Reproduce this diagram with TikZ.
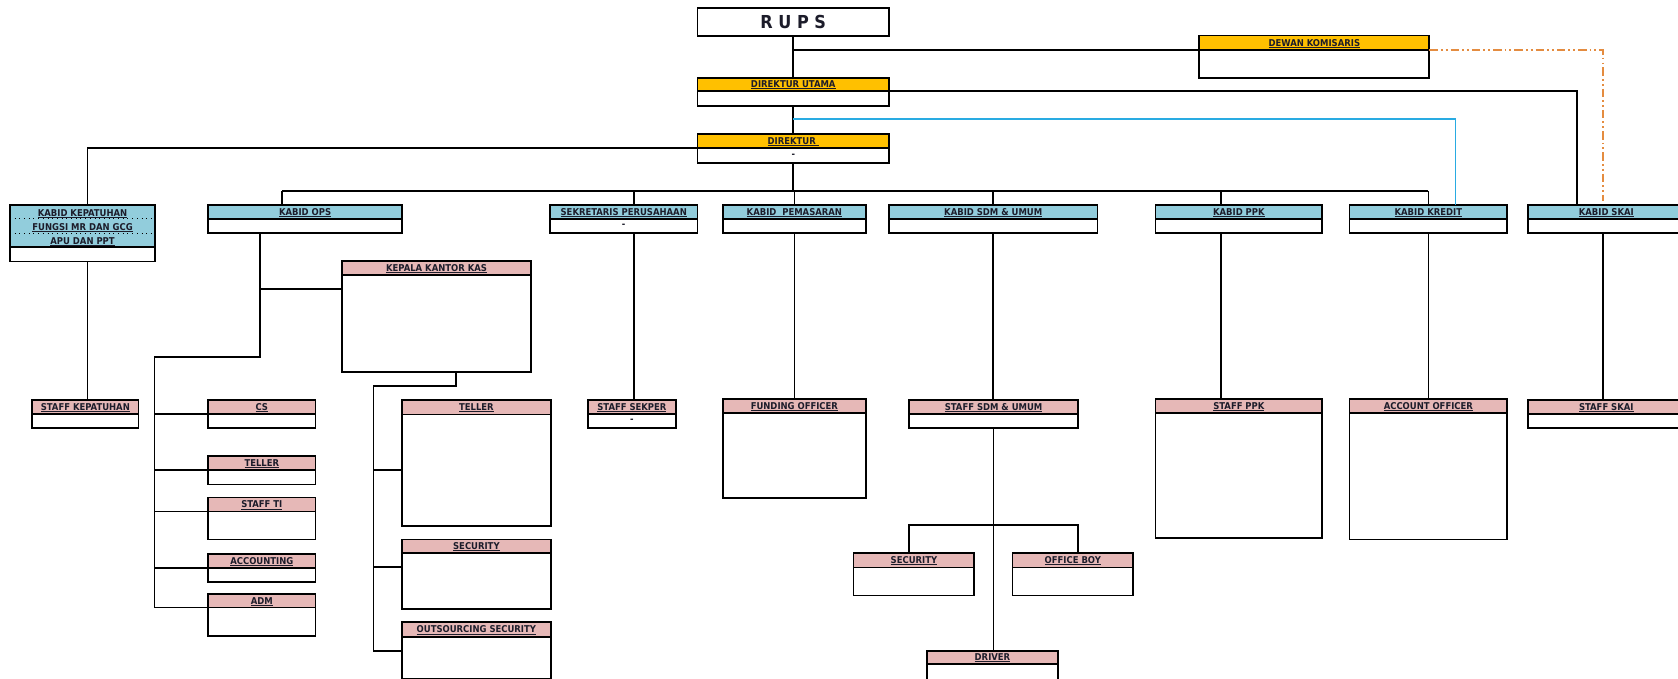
\documentclass[tikz,border=0pt]{standalone}
\usepackage{fontspec}
\usepackage{xcolor}
\usepackage{tikz}
\newfontfamily\orgfont{DejaVu Sans Condensed}
\definecolor{gold}{HTML}{FFC000}
\definecolor{kabid}{HTML}{92CDDC}
\definecolor{staff}{HTML}{E6B8B7}
\definecolor{jalur}{HTML}{29ABE2}
\definecolor{komisaris}{RGB}{228,140,64}
\definecolor{tulisan}{HTML}{1C1C2A}

\newcommand{\garisbawah}[1]{\setbox0\hbox{#1}\rlap{\rule[-0.75pt]{\wd0}{0.4pt}}\box0}

\tikzstyle{head} = [rectangle, draw=black, line width=0.9pt, inner sep=0pt, outer sep=0pt, anchor=north west, text=tulisan, align=center, font=\orgfont\bfseries\fontsize{5}{7.5}\selectfont]
\tikzstyle{isi} = [rectangle, draw=black, fill=white, line width=0.9pt, inner sep=0pt, outer sep=0pt, anchor=north west, text=tulisan, font=\orgfont\bfseries\fontsize{5}{6}\selectfont]
\tikzstyle{garis} = [line width=0.9pt, draw=black]
\tikzstyle{garisbiru} = [line width=0.9pt, draw=jalur]
\tikzstyle{gariskom} = [line width=0.9pt, draw=komisaris, dash pattern=on 4.5pt off 1.6pt on 1pt off 1.6pt on 1pt off 1.6pt]

% name, x1, y1, x2, y head bottom, y2, fill, title, body
\newcommand{\jabatan}[9]{%
  \node[head, fill=#7, text height=4.6pt, text depth=1pt, minimum width={(#4-#2)*0.02cm}, minimum height={(#5-#3)*0.02cm}] (#1h) at (#2,#3) {\garisbawah{#8}};
  \node[isi, minimum width={(#4-#2)*0.02cm}, minimum height={(#6-#5)*0.02cm}] (#1) at (#2,#5) {#9};
}

\begin{document}
\begin{tikzpicture}[x=0.02cm, y=-0.02cm]
\useasboundingbox (0,0) rectangle (1568,634);
\clip (0,0) rectangle (1568,634);

	% top
	\node[rectangle, draw=black, line width=0.9pt, inner sep=0pt, outer sep=0pt, anchor=north west, minimum width={179.1*0.02cm}, minimum height={25.8*0.02cm}, text=tulisan, font=\orgfont\bfseries\fontsize{9.5}{11}\selectfont] (rups) at (651.7,7.8) {R U P S};
	\jabatan{dk}{1120.7}{33.3}{1335.6}{46.7}{72.6}{gold}{DEWAN KOMISARIS}{}
	\jabatan{du}{651.7}{72.6}{830.8}{85}{99}{gold}{DIREKTUR UTAMA}{}
	\jabatan{dir}{651.7}{125.5}{830.8}{138.6}{152}{gold}{DIREKTUR\ }{-}

	% kabid
	\node[head, fill=kabid, minimum width={135.7*0.02cm}, minimum height={39.5*0.02cm}] (keph) at (9.3,191.6) {\rule{0pt}{5pt}\garisbawah{KABID KEPATUHAN}\\\garisbawah{FUNGSI MR DAN GCG}\\\garisbawah{APU DAN PPT}};
	\node[isi, minimum width={135.7*0.02cm}, minimum height={13.4*0.02cm}] (kep) at (9.3,231.1) {};
	\draw[dotted, line width=0.5pt] (9.3,204.6) -- (145,204.6);
	\draw[dotted, line width=0.5pt] (9.3,217.9) -- (145,217.9);
	\jabatan{ops}{194.6}{191.6}{375.6}{204.6}{217.7}{kabid}{KABID OPS}{}
	\jabatan{sek}{514}{191.6}{651.7}{204.6}{217.7}{kabid}{SEKRETARIS PERUSAHAAN}{-}
	\jabatan{pem}{675.6}{191.6}{809}{204.6}{217.7}{kabid}{KABID\ \ PEMASARAN}{}
	\jabatan{sdm}{830.7}{191.6}{1025.5}{204.6}{217.7}{kabid}{KABID SDM \& UMUM}{}
	\jabatan{ppk}{1079.7}{191.6}{1235.6}{204.6}{217.7}{kabid}{KABID PPK}{}
	\jabatan{kredit}{1261}{191.6}{1408.4}{204.6}{217.7}{kabid}{KABID KREDIT}{}
	\jabatan{skai}{1428}{191.6}{1574}{204.6}{217.7}{kabid}{KABID SKAI}{}

	% staff
	\jabatan{kkk}{319.7}{243.9}{496.2}{257}{347.3}{staff}{KEPALA KANTOR KAS}{}
	\jabatan{skep}{30}{373.8}{129.5}{386.8}{400.2}{staff}{STAFF KEPATUHAN}{}
	\jabatan{cs}{194.6}{373.8}{294.7}{386.8}{400.2}{staff}{CS}{}
	\jabatan{tel1}{194.6}{425.8}{294.7}{439.2}{452.6}{staff}{TELLER}{}
	\jabatan{sti}{194.6}{465}{294.7}{478}{504}{staff}{STAFF TI}{}
	\jabatan{acc}{194.6}{517.4}{294.7}{530.7}{543.8}{staff}{ACCOUNTING}{}
	\jabatan{adm}{194.6}{555}{294.7}{567.8}{594.3}{staff}{ADM}{}
	\jabatan{tel2}{375.4}{373.8}{514.9}{387.2}{491.5}{staff}{TELLER}{}
	\jabatan{sec1}{375.4}{504}{514.9}{517}{569.3}{staff}{SECURITY}{}
	\jabatan{outs}{375.4}{581.5}{514.9}{595}{634}{staff}{OUTSOURCING SECURITY}{}
	\jabatan{ssek}{549.3}{373.8}{631.7}{386.8}{400.2}{staff}{STAFF SEKPER}{-}
	\jabatan{fund}{675.6}{373}{809}{386.2}{465.6}{staff}{FUNDING OFFICER}{}
	\jabatan{ssdm}{849.7}{373.8}{1007.2}{386.8}{400.2}{staff}{STAFF SDM \& UMUM}{}
	\jabatan{sec2}{797.6}{517}{910.4}{530.4}{556.6}{staff}{SECURITY}{}
	\jabatan{ob}{946}{517}{1059}{530.4}{556.6}{staff}{OFFICE BOY}{}
	\jabatan{drv}{866.2}{608}{988.6}{620.7}{640}{staff}{DRIVER}{}
	\jabatan{sppk}{1079.7}{372.8}{1235.6}{386.2}{503}{staff}{STAFF PPK}{}
	\jabatan{ao}{1261}{372.8}{1408.4}{386.2}{504}{staff}{ACCOUNT OFFICER}{}
	\jabatan{sskai}{1428}{373.8}{1574}{386.8}{400}{staff}{STAFF SKAI}{}

	\coordinate (busL) at (263.6,178.5);
	\coordinate (kepA) at (81.8,0);
	\coordinate (sekA) at (592.5,0);
	\coordinate (ppkA) at (1141,0);
	\coordinate (skaiA) at (1473.6,0);
	\coordinate (skaiB) at (1498,0);
	\coordinate (biru) at (1360,111.5);
	\coordinate (opsA) at (243,333.9);
	\coordinate (opsB) at (144.5,333.9);
	\coordinate (kasA) at (425.8,360.4);
	\coordinate (kasB) at (349,360.4);
	\coordinate (sdmL) at (849.7,490.6);
	\coordinate (sdmR) at (1007.2,490.6);

	% top lines
	\draw [garis] (rups.south) -- (duh.north);
	\draw [garis] (rups.south |- dkh.south west) -- (dkh.south west);
	\draw [garis] (du.south) -- (dirh.north);
	\draw [garis] (duh.south east) -| (skaiA |- skaih.north);
	\draw [garisbiru] (du.south |- biru) -- (biru) -- (biru |- kredith.north);
	\draw [gariskom, shorten >=0.08cm] (dkh.south east) -| (skaiB |- skaih.north);
	\draw [garis] (dirh.south west) -| (kepA |- keph.north);
	\draw [garis] (dir.south) -- (dir.south |- busL);
	\draw [garis] (busL) -- (busL -| kredith.north);
	\foreach \n/\x in {opsh/263.6, sekh/592.5, pemh/742.3, sdmh/928.1, ppkh/1141, kredith/1334.7}
		\draw [garis] (busL -| \x,0) -- (\x,0 |- \n.north);

	% down lines
	\draw [garis] (kepA |- kep.south) -- (kepA |- skeph.north);
	\draw [garis] (opsA |- ops.south) -- (opsA) -- (opsB) -- (opsB |- admh.south);
	\draw [garis] (opsA |- 0,270) -- (kkk.west |- 0,270);
	\foreach \n in {csh, tel1h, stih, acch, admh}
		\draw [garis] (opsB |- \n.south west) -- (\n.south west);
	\draw [garis] (kasA |- kkk.south) -- (kasA) -- (kasB) -- (kasB |- 0,608.3);
	\foreach \n/\y in {tel2/439.2, sec1/530, outs/608.3}
		\draw [garis] (kasB |- 0,\y) -- (\n.west |- 0,\y);
	\draw [garis] (sekA |- sek.south) -- (sekA |- ssekh.north);
	\draw [garis] (pem.south) -- (pem.south |- fundh.north);
	\draw [garis] (sdm.south) -- (sdm.south |- ssdmh.north);
	\draw [garis] (ssdm.south) -- (ssdm.south |- drvh.north);
	\draw [garis] (sdmL |- sec2h.north) -- (sdmL) -- (sdmR) -- (sdmR |- obh.north);
	\draw [garis] (ppkA |- ppk.south) -- (ppkA |- sppkh.north);
	\draw [garis] (kredit.south) -- (kredit.south |- aoh.north);
	\draw [garis] (skaiB |- skai.south) -- (skaiB |- sskaih.north);

\end{tikzpicture}
\end{document}
